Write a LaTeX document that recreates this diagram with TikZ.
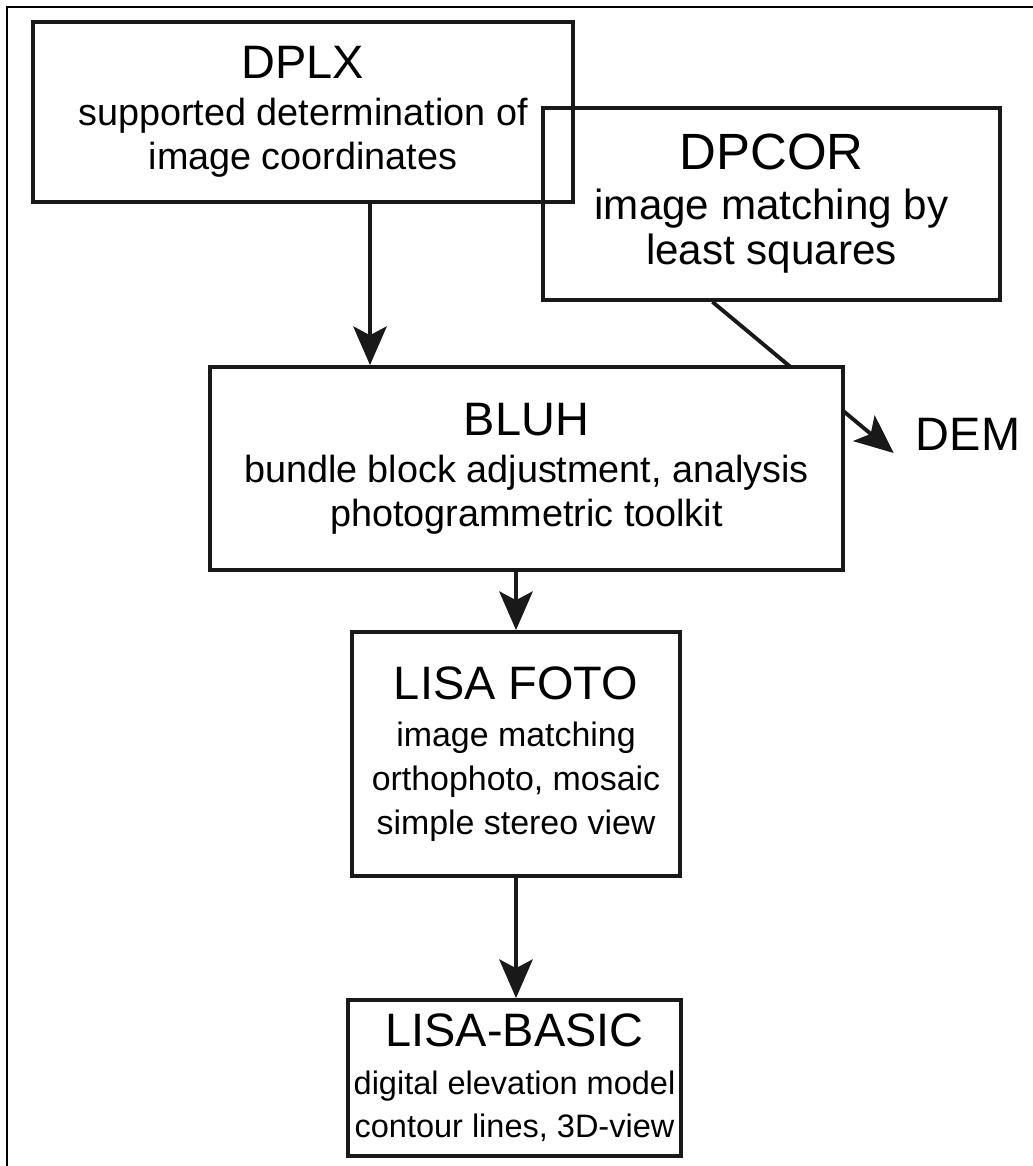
\documentclass[tikz,border=0pt]{standalone}
\usepackage{fontspec}
\setmainfont{Liberation Sans}
\usetikzlibrary{arrows.meta, positioning, calc, backgrounds}
\newcommand{\boxhead}[2][26.7]{{\fontsize{#1}{30}\selectfont #2}\\[2pt]}

\begin{document}
\begin{tikzpicture}[
  x=0.02cm, y=-0.02cm,
  box/.style={draw=black!90, line width=2.2pt, inner sep=0pt, align=center,
              font=\fontsize{21.5}{25}\selectfont},
  small/.style={font=\fontsize{18.5}{25}\selectfont},
  arr/.style={-{Stealth[length=22pt, width=19pt, inset=5pt]}, line width=2.2pt, color=black!90}
]
  \useasboundingbox (0,0) rectangle (1032,1166);

  % outer frame (only top and left edge show)
  \draw[line width=0.8pt] (7,1180) -- (7,7) -- (1045,7);

  % Top: the two input programs
  \node[box, minimum width=10.8cm, minimum height=3.6cm] (dplx) at (303,112)
    {\boxhead{DPLX}supported determination of\\ image coordinates};
  \node[box, font=\fontsize{24}{26}\selectfont,
        minimum width=9.14cm, minimum height=3.84cm] (dpcor) at (771.5,204)
    {\boxhead[29]{DPCOR}image matching by\\ least squares};

  % Adjustment
  \node[box, fill=white, minimum width=12.66cm, minimum height=4.06cm] (bluh) at (526.5,468.5)
    {\boxhead{BLUH}bundle block adjustment, analysis\\ photogrammetric toolkit};
  \node[font=\fontsize{26.7}{30}\selectfont] (dem) at (968,434) {DEM};

  % LISA
  \node[box, small, font=\fontsize{19.3}{25}\selectfont,
        minimum width=6.56cm, minimum height=4.88cm] (foto) at (516,754)
    {\boxhead{LISA FOTO}image matching\\ orthophoto, mosaic\\ simple stereo view};
  \node[box, small, minimum width=6.66cm, minimum height=3.12cm] (basic) at (514.5,1078)
    {\boxhead{LISA-BASIC}digital elevation model\\ contour lines, 3D-view};

  % Arrows
  \coordinate (dplxout) at ($(dplx.south)+(67,0)$);
  \draw[arr] (dplxout) -- (dplxout |- bluh.north);
  \draw[arr] (foto.north |- bluh.south) -- (foto.north);
  \draw[arr] (foto.south) -- (foto.south |- basic.north);

  % DPCOR to DEM, passes behind BLUH
  \begin{scope}[on background layer]
    \draw[arr] ($(dpcor.south)+(-59,0)$) -- ($(dem.west)+(-16,19)$);
  \end{scope}
\end{tikzpicture}
\end{document}
